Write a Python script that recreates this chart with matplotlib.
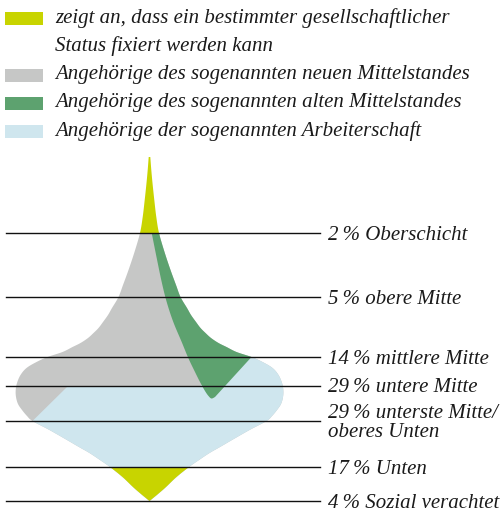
import matplotlib.pyplot as plt
from matplotlib.patches import Polygon, Rectangle
import numpy as np

# legend
legend_colors = ['#c8d400', '#c6c7c6', '#5da26f', '#cfe6ee']
legend_texts = ['zeigt an, dass ein bestimmter gesellschaftlicher\nStatus fixiert werden kann',
                'Angehörige des sogenannten neuen Mittelstandes',
                'Angehörige des sogenannten alten Mittelstandes',
                'Angehörige der sogenannten Arbeiterschaft']

# strata
shares = [2, 5, 14, 29, 29, 17, 4]
names = ['Oberschicht', 'obere Mitte', 'mittlere Mitte', 'untere Mitte',
         'unterste Mitte/\noberes Unten', 'Unten', 'Sozial verachtet']
line_y = [233, 297, 357, 386, 421, 467, 501]

# onion outline: half width by height (pixels)
prof_y = [157, 170, 183, 200, 217, 233, 252, 270, 285, 297, 308, 315, 322, 328, 333, 338,
          343, 347, 352, 357, 362, 368, 375, 383, 390, 397, 404, 410, 416, 421, 430, 440,
          447, 453, 460, 467, 477, 487, 494, 501]
prof_w = [0.8, 1.8, 3.0, 4.8, 6.8, 9.5, 15, 21, 26.5, 31, 37.5, 41.5, 46.5, 51, 56, 61.5,
          69, 77, 87, 102, 113, 123, 129, 132.5, 133.8, 133.5, 131.5, 127.5, 122.5, 117, 100, 82.5,
          70.5, 60, 49.5, 39.5, 27, 16.5, 8.5, 0]
cx = 149.5

# old middle class (green) inner edge, top to tip
green_x = [151.7, 156.7, 161.7, 166.7, 173.3, 181.7, 188.3, 195, 200, 205, 208.5, 211.5, 215]
green_y = [233, 258, 282, 302, 322, 342, 358, 372, 382, 391, 396, 398.5, 397]

# top edge of the working class area
blue_x = [68, 200, 251]
blue_y = [386, 386, 357]


def smooth(xs, ys, n=8):
    # catmull-rom curve through the read points, only to draw a round outline
    p = np.column_stack([xs, ys]).astype(float)
    p = np.vstack([p[0], p, p[-1]])
    t = np.linspace(0, 1, n, endpoint=False)[:, None]
    out = []
    for i in range(1, len(p) - 2):
        p0, p1, p2, p3 = p[i - 1], p[i], p[i + 1], p[i + 2]
        out.append(0.5 * (2 * p1 + (-p0 + p2) * t + (2 * p0 - 5 * p1 + 4 * p2 - p3) * t ** 2
                          + (-p0 + 3 * p1 - 3 * p2 + p3) * t ** 3))
    out.append(p[-2][None, :])
    return np.vstack(out)


prof = smooth(prof_w, prof_y)
pw, py = prof[:, 0], prof[:, 1]


def band(y0, y1):
    m = (py >= y0 - 1e-6) & (py <= y1 + 1e-6)
    ys, ws = py[m], pw[m]
    xs = np.concatenate([cx - ws, (cx + ws)[::-1]])
    return np.column_stack([xs, np.concatenate([ys, ys[::-1]])])


fig = plt.figure(figsize=(5.02, 5.14), dpi=100)
ax = fig.add_axes([0, 0, 1, 1])
ax.set_xlim(0, 502)
ax.set_ylim(514, 0)
ax.axis('off')

# top spike
ax.add_patch(Polygon(band(157, 233), closed=True, fc=legend_colors[0], ec='none'))
# whole body in grey
ax.add_patch(Polygon(band(233, 501), closed=True, fc=legend_colors[1], ec='none'))

# working class
m = py >= 357
right = np.column_stack([cx + pw[m], py[m]])
m2 = py >= 421
left = np.column_stack([cx - pw[m2], py[m2]])[::-1]
blue = np.vstack([np.column_stack([blue_x, blue_y]), right, left])
ax.add_patch(Polygon(blue, closed=True, fc=legend_colors[3], ec='none'))

# old middle class
m = (py >= 233 - 1e-6) & (py <= 357)
gr = np.vstack([np.column_stack([cx + pw[m], py[m]]),
                smooth(green_x, green_y)[::-1]])
ax.add_patch(Polygon(gr, closed=True, fc=legend_colors[2], ec='none'))

# bottom tip
ax.add_patch(Polygon(band(467, 501), closed=True, fc=legend_colors[0], ec='none'))

font = dict(family='Liberation Serif', style='italic', color='#1a1a1a', fontsize=15)

for y, s, n in zip(line_y, shares, names):
    ax.plot([6, 320], [y, y], color='#111111', lw=1.0)
    ax.text(328, y + 2, f'{s}\u2009% {n}', va='center', ha='left', linespacing=1.05, **font)

# legend
sw_y = [18, 75, 103, 131]
for c, t, y in zip(legend_colors, legend_texts, sw_y):
    ax.add_patch(Rectangle((5, y - 6.5), 38, 13, fc=c, ec='none'))
    for i, part in enumerate(t.split('\n')):
        ax.text(55, y + i * 28, part, va='center', ha='left', **font)

fig.savefig('out.png', dpi=100)
